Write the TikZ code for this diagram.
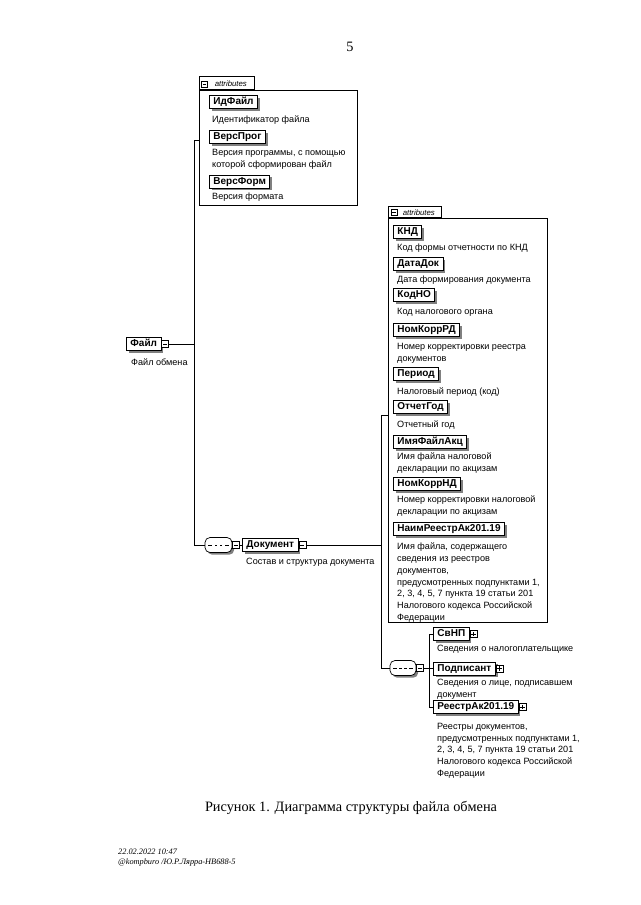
\documentclass[tikz,border=0pt]{standalone}
\usepackage{fontspec}
\setmainfont{Liberation Serif}
\newfontfamily\arial{Liberation Sans}
\usetikzlibrary{shadows}
\tikzset{
  conn/.style={draw, line width=0.7pt},
  shad/.style={drop shadow={shadow xshift=2.2pt, shadow yshift=-2.2pt, fill=black!50, opacity=1}},
  el/.style={draw, line width=0.9pt, fill=white, anchor=north west, minimum height=13pt,
    inner xsep=4pt, inner ysep=0pt, text height=7.3pt, text depth=1.8pt,
    font=\arial\bfseries\fontsize{10}{11}\selectfont, shad},
  desc/.style={anchor=north west, inner sep=0pt, align=left,
    font=\arial\fontsize{9.1}{11.7}\selectfont},
  minusbox/.style={draw, line width=0.6pt, fill=white, minimum size=7pt, inner sep=0pt,
    path picture={\draw[line width=0.6pt, sharp corners] ([xshift=1.4pt]path picture bounding box.west) -- ([xshift=-1.4pt]path picture bounding box.east);}},
  plusbox/.style={draw, line width=0.6pt, fill=white, minimum size=7pt, inner sep=0pt,
    path picture={\draw[line width=0.6pt, sharp corners] ([xshift=1.4pt]path picture bounding box.west) -- ([xshift=-1.4pt]path picture bounding box.east);
      \draw[line width=0.6pt, sharp corners] ([yshift=-1.4pt]path picture bounding box.north) -- ([yshift=1.4pt]path picture bounding box.south);}},
  seqbox/.style={draw, line width=0.7pt, fill=white, rounded corners=5pt, minimum width=27pt,
    minimum height=15pt, inner sep=0pt, shad,
    path picture={\draw[line width=0.7pt, sharp corners] ([xshift=3pt]path picture bounding box.west) -- ([xshift=-3pt]path picture bounding box.east);
      \fill[sharp corners] ([xshift=-5pt]path picture bounding box.center) +(-1.4pt,-1.4pt) rectangle +(1.4pt,1.4pt);
      \fill[sharp corners] (path picture bounding box.center) +(-1.4pt,-1.4pt) rectangle +(1.4pt,1.4pt);
      \fill[sharp corners] ([xshift=5pt]path picture bounding box.center) +(-1.4pt,-1.4pt) rectangle +(1.4pt,1.4pt);}},
  attrframe/.style={draw, line width=0.6pt, anchor=north west, inner sep=0pt},
  attrtab/.style={draw, line width=0.6pt, anchor=south west, inner sep=0pt, minimum height=13pt,
    font=\arial\itshape\fontsize{7.8}{8}\selectfont, text depth=0pt},
  caption/.style={font=\fontsize{14.3}{16}\selectfont, inner sep=0pt},
  foot/.style={font=\itshape\fontsize{8.3}{10}\selectfont, anchor=north west, inner sep=0pt, align=left}
}
\begin{document}
\begin{tikzpicture}[x=1pt,y=-1pt]
\useasboundingbox[fill=white] (0,0) rectangle (640,905);

% page number
\node[caption] (pnum) at (350,47) {5};

% ---------- root element
\node[el] (file) at (126,337) {Файл};
\node[minusbox, anchor=west] (fileE) at (file.east) {};
\node[desc] (fileD) at (131,359) {Файл обмена};

% ---------- attributes 1
\node[attrframe, minimum width=158pt, minimum height=115pt] (attr1) at (199,90) {};
\node[attrtab, minimum width=55pt] (tab1) at (199,90) {\hspace*{10pt}attributes\hspace*{2pt}};
\node[minusbox, minimum size=6pt] (tab1m) at (204.5,84) {};

\node[el] (idf) at (209,95) {ИдФайл};
\node[desc] (idfD) at (212,116) {Идентификатор файла};
\node[el] (vprog) at (209,130) {ВерсПрог};
\node[desc] (vprogD) at (212,149) {Версия программы, с помощью\\которой сформирован файл};
\node[el] (vform) at (209,174.5) {ВерсФорм};
\node[desc] (vformD) at (212,193) {Версия формата};

% ---------- sequence 1 and Документ
\node[seqbox] (seq1) at (218.5,545) {};
\node[minusbox, anchor=west] (seq1E) at (seq1.east) {};
\node[el, anchor=west] (doc) at (242,545) {Документ};
\node[minusbox, anchor=west] (docE) at (doc.east) {};
\node[desc] (docD) at (246,558) {Состав и структура документа};

\coordinate (a1) at (194,140);
\coordinate (s1) at (194,545);
\draw[conn] (fileE.east) -- (fileE.east -| a1);
\draw[conn] (a1) -- (a1 -| attr1.west);
\draw[conn] (a1) -- (s1) -- (seq1.west);
\draw[conn] (seq1E.east) -- (doc.west);

% ---------- attributes 2
\node[attrframe, minimum width=159pt, minimum height=404pt] (attr2) at (388,218) {};
\node[attrtab, minimum width=53pt, minimum height=11pt] (tab2) at (388,218) {\hspace*{10pt}attributes\hspace*{2pt}};
\node[minusbox, minimum size=6pt] (tab2m) at (394,212.5) {};

\node[el] (knd) at (393,225) {КНД};
\node[desc] (kndD) at (397,244) {Код формы отчетности по КНД};
\node[el] (datadok) at (393,257) {ДатаДок};
\node[desc] (datadokD) at (397,276) {Дата формирования документа};
\node[el] (kodno) at (393,288) {КодНО};
\node[desc] (kodnoD) at (397,308) {Код налогового органа};
\node[el] (nkrd) at (393,323) {НомКоррРД};
\node[desc] (nkrdD) at (397,343) {Номер корректировки реестра\\документов};
\node[el] (period) at (393,367) {Период};
\node[desc] (periodD) at (397,388) {Налоговый период (код)};
\node[el] (otgod) at (393,400) {ОтчетГод};
\node[desc] (otgodD) at (397,421) {Отчетный год};
\node[el] (imf) at (393,435) {ИмяФайлАкц};
\node[desc] (imfD) at (397,453) {Имя файла налоговой\\декларации по акцизам};
\node[el] (nknd) at (393,477) {НомКоррНД};
\node[desc] (nkndD) at (397,496) {Номер корректировки налоговой\\декларации по акцизам};
\node[el] (naim) at (393,522) {НаимРеестрАк201.19};
\node[desc] (naimD) at (397,543) {Имя файла, содержащего\\сведения из реестров\\документов,\\предусмотренных подпунктами 1,\\2, 3, 4, 5, 7 пункта 19 статьи 201\\Налогового кодекса Российской\\Федерации};

% ---------- sequence 2 and children
\node[seqbox, minimum width=26pt] (seq2) at (403,668) {};
\node[minusbox, anchor=west] (seq2E) at (seq2.east) {};
\node[el] (svnp) at (433,627) {СвНП};
\node[plusbox, anchor=west] (svnpE) at (svnp.east) {};
\node[desc] (svnpD) at (437,645) {Сведения о налогоплательщике};
\node[el] (podp) at (433,661.5) {Подписант};
\node[plusbox, anchor=west] (podpE) at (podp.east) {};
\node[desc] (podpD) at (437,679) {Сведения о лице, подписавшем\\документ};
\node[el] (rst) at (433,700) {РеестрАк201.19};
\node[plusbox, anchor=west] (rstE) at (rst.east) {};
\node[desc] (rstD) at (437,723) {Реестры документов,\\предусмотренных подпунктами 1,\\2, 3, 4, 5, 7 пункта 19 статьи 201\\Налогового кодекса Российской\\Федерации};

\coordinate (a2) at (381,415);
\coordinate (s2) at (381,668);
\coordinate (b1) at (429,633);
\draw[conn] (docE.east) -- (docE.east -| a2);
\draw[conn] (a2) -- (a2 -| attr2.west);
\draw[conn] (a2) -- (s2) -- (seq2.west);
\draw[conn] (seq2E.east) -- (seq2E.east -| b1);
\draw[conn] (svnp.west) -- (svnp.west -| b1) -- (rst.west -| b1) -- (rst.west);
\draw[conn] (podp.west) -- (podp.west -| b1);

% ---------- caption and footer
\node[caption] (cap) at (351,808) {Рисунок 1. Диаграмма структуры файла обмена};
\node[foot] (ft) at (118,849) {22.02.2022 10:47\\@kompburo /Ю.Р.Лярра-НВ688-5};
\end{tikzpicture}
\end{document}
